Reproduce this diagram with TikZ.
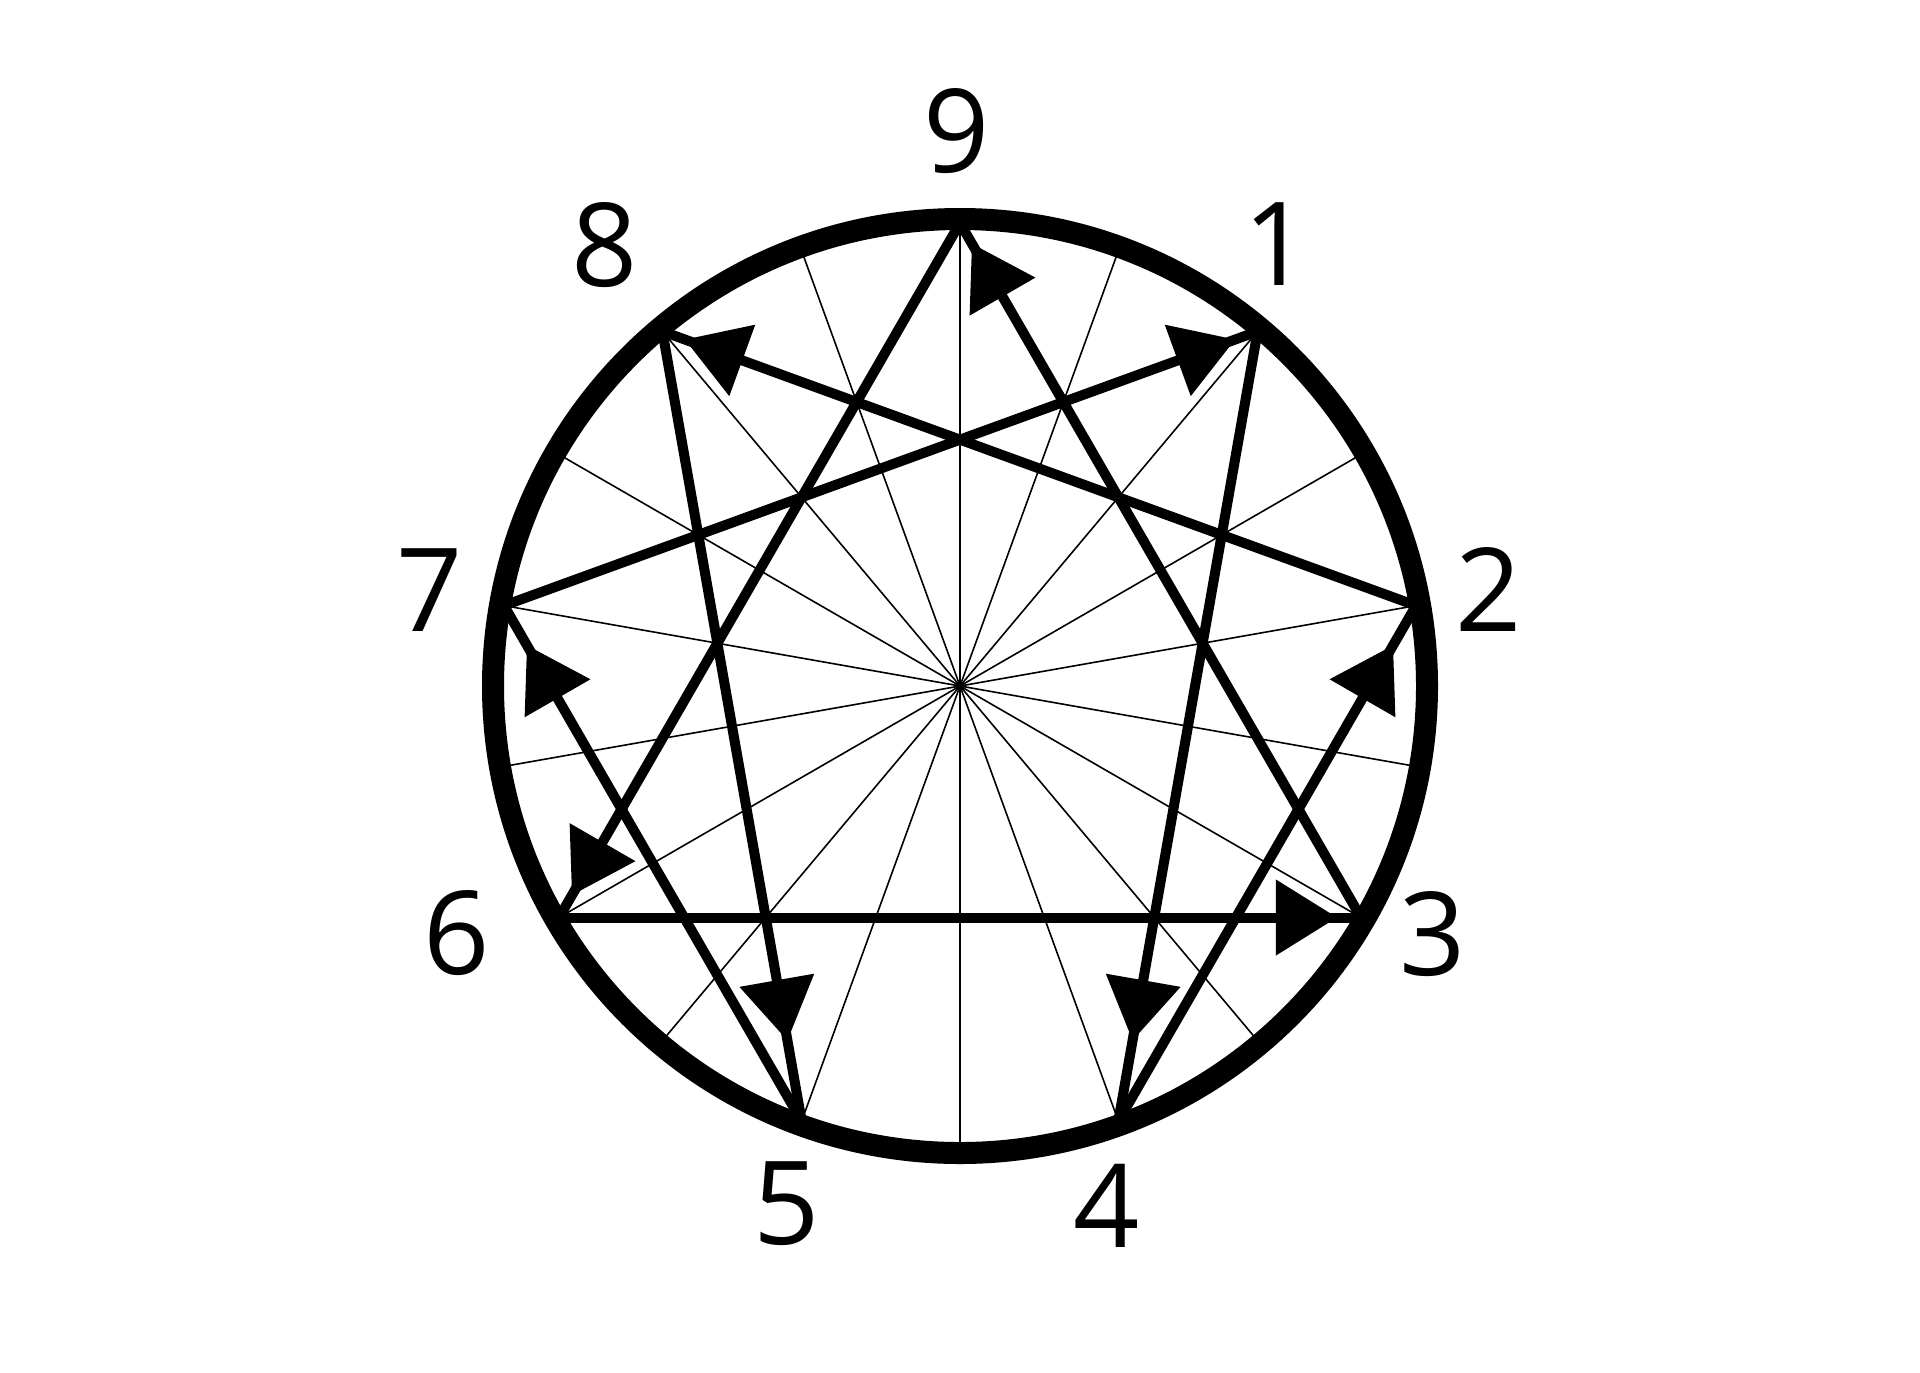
\documentclass[tikz,border=0pt]{standalone}
\usepackage{fontspec}
\setmainfont{Open Sans}
\usetikzlibrary{calc}
\newcommand\ennarrow[3]{%
  \path ($(#2)!#3!(#1)$) coordinate (tp);
  \path ($(tp)!30.5pt!(#1)$) coordinate (bm);
  \fill (tp) -- ($(bm)!19pt!90:(#1)$) -- ($(bm)!19pt!-90:(#1)$) -- cycle;
}
\begin{document}
\begin{tikzpicture}[x=0.5pt,y=-0.5pt,
  thinline/.style={line width=0.8pt},
  thickline/.style={line width=5pt},
  ring/.style={line width=11pt},
  digit/.style={inner sep=0pt, font=\fontsize{58}{60}\selectfont}]
\useasboundingbox (0,0) rectangle (1920,1372);
\coordinate (C) at (960,686);
\foreach \k in {1,...,9}{
  \coordinate (P\k) at ($(C)+({463*sin(40*\k)},{-463*cos(40*\k)})$);
  \coordinate (A\k) at ($(C)+({467*sin(40*\k)},{-467*cos(40*\k)})$);
  \coordinate (B\k) at ($(C)-({467*sin(40*\k)},{-467*cos(40*\k)})$);
}
\foreach \k in {1,...,9} \draw[thinline] (A\k) -- (B\k);
\foreach \a/\b in {1/4,4/2,2/8,8/5,5/7,7/1,9/6,6/3,3/9}
  \draw[thickline] (P\a) -- (P\b);
\ennarrow{P1}{P4}{41pt}
\ennarrow{P4}{P2}{23pt}
\ennarrow{P2}{P8}{12pt}
\ennarrow{P8}{P5}{41pt}
\ennarrow{P5}{P7}{23pt}
\ennarrow{P7}{P1}{12pt}
\ennarrow{P9}{P6}{13pt}
\ennarrow{P6}{P3}{12pt}
\ennarrow{P3}{P9}{12pt}
\draw[ring] (C) circle[radius=233.5pt];
\node[digit] (L9) at (957,131) {9};
\node[digit] (L1) at (1277,244) {1};
\node[digit] (L2) at (1489,589) {2};
\node[digit] (L3) at (1433,934) {3};
\node[digit] (L4) at (1107,1206) {4};
\node[digit] (L5) at (787,1204) {5};
\node[digit] (L6) at (457,933) {6};
\node[digit] (L7) at (430,590) {7};
\node[digit] (L8) at (605,245) {8};
\end{tikzpicture}
\end{document}
